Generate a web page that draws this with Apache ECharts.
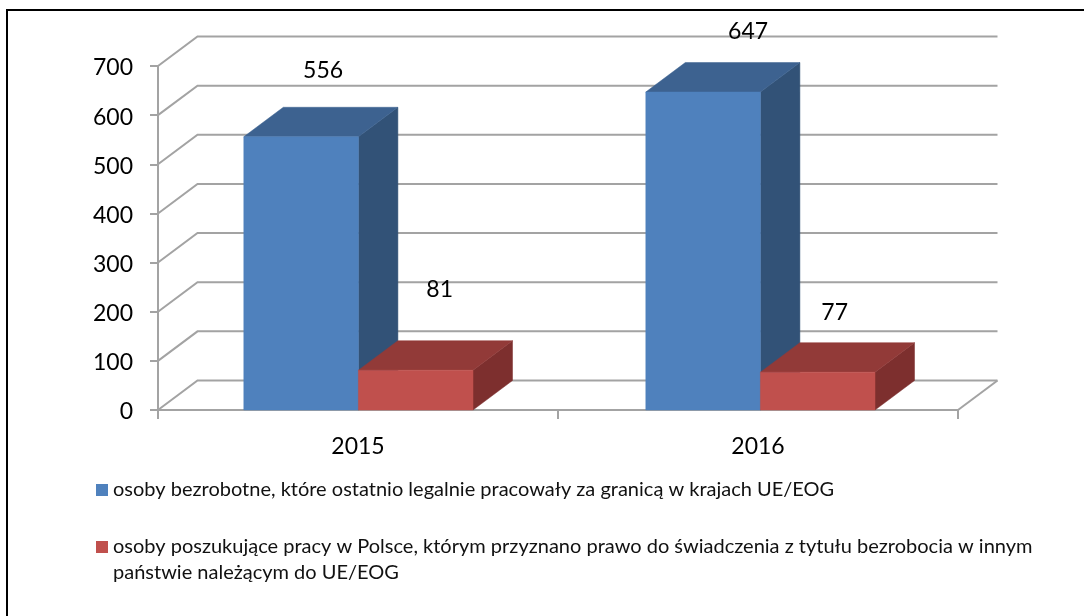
<!DOCTYPE html>
<html>
<head>
<meta charset="utf-8">
<style>html,body{margin:0;padding:0;background:#fff}#c{width:1084px;height:616px}</style>
<script src="https://cdn.jsdelivr.net/npm/echarts@6/dist/echarts.min.js"></script>
</head>
<body>
<div id="c"></div>
<script>
const categories = ['2015', '2016'];
const seriesNames = [
  'osoby bezrobotne, które ostatnio legalnie pracowały za granicą w krajach UE/EOG',
  'osoby poszukujące pracy w Polsce, którym przyznano prawo do świadczenia z tytułu bezrobocia w innym państwie należącym do UE/EOG'
];
const unemployed = [556, 647];
const jobSeekers = [81, 77];
const yTicks = [0, 100, 200, 300, 400, 500, 600, 700];

const FONT = 'Lato, "Open Sans", sans-serif';
const DX = 39.5, DY = -29.5;
const GRID = '#a3a3a3';
const palettes = [
  {front: '#4f81bd', top: '#3d6290', side: '#325277'},
  {front: '#c0504d', top: '#923a38', side: '#7d2f2e'}
];
// hand-placed data label offsets from the top of each bar's front face
const labelOffsets = [
  [[22, -66], [45, -60]],
  [[24, -81], [17, -60]]
];
const categoryNudge = [0, 2];
const BAR_WIDTH_RATIO = 0.2865, BAR_START_RATIO = 0.2145;

const chart = echarts.init(document.getElementById('c'), null, {renderer: 'canvas'});

function barItem(sIdx) {
  return function (params, api) {
    const cat = api.value(0), val = api.value(1);
    const base = api.coord([cat, 0]), top = api.coord([cat, val]);
    const band = api.size([1, 0])[0];
    const bw = band * BAR_WIDTH_RATIO;
    const x0 = base[0] - band / 2 + band * BAR_START_RATIO + sIdx * bw + categoryNudge[params.dataIndex];
    const x1 = x0 + bw, yb = base[1], yt = top[1];
    const p = palettes[sIdx];
    const off = labelOffsets[sIdx][params.dataIndex];
    const poly = (pts, fill) => ({type: 'polygon', shape: {points: pts}, style: {fill: fill, stroke: fill, lineWidth: 0.5}});
    return {
      type: 'group',
      children: [
        poly([[x1, yb], [x1 + DX, yb + DY], [x1 + DX, yt + DY], [x1, yt]], p.side),
        poly([[x0, yt], [x0 + DX, yt + DY], [x1 + DX, yt + DY], [x1, yt]], p.top),
        poly([[x0, yb], [x0, yt], [x1, yt], [x1, yb]], p.front),
        {type: 'text', style: {
          x: (x0 + x1) / 2 + off[0], y: yt + off[1], text: String(val),
          font: '23px ' + FONT, fill: '#000', align: 'center', verticalAlign: 'middle'
        }, z2: 50}
      ]
    };
  };
}

function wallItem(params, api) {
  const v = api.value(0);
  const start = api.coord([0, v]);
  const cs = params.coordSys;
  const left = cs.x, right = cs.x + cs.width;
  const ls = {stroke: GRID, lineWidth: 2, fill: null};
  const children = [
    {type: 'polyline', shape: {points: [[left, start[1]], [left + DX, start[1] + DY], [right + DX, start[1] + DY]]}, style: ls}
  ];
  if (v === 0) {
    children.push({type: 'line', shape: {x1: right, y1: start[1], x2: right + DX, y2: start[1] + DY}, style: {stroke: GRID, lineWidth: 2}});
  }
  return {type: 'group', children: children};
}

chart.setOption({
  animation: false,
  backgroundColor: '#fff',
  textStyle: {fontFamily: FONT},
  grid: {left: 158, right: 126, top: 66, bottom: 206, containLabel: false},
  xAxis: {
    type: 'category', data: categories,
    axisLine: {lineStyle: {color: GRID, width: 2}},
    axisTick: {show: true, alignWithLabel: false, length: 9, lineStyle: {color: GRID, width: 2}},
    axisLabel: {fontSize: 23, color: '#000', margin: 25, fontFamily: FONT},
    splitLine: {show: false}, z: 3
  },
  yAxis: {
    type: 'value', min: 0, max: 700, interval: 100,
    axisLine: {show: true, lineStyle: {color: GRID, width: 2}},
    axisTick: {show: true, length: 8, lineStyle: {color: GRID, width: 2}},
    axisLabel: {
      color: '#000', margin: 25, formatter: '{v|{value}}',
      rich: {v: {fontSize: 23, color: '#000', fontFamily: FONT, padding: [4, 0, 0, 0]}}
    },
    splitLine: {show: false}, z: 3
  },
  legend: [
    {
      data: [seriesNames[0]], left: 96, top: 480, padding: 0,
      itemWidth: 12, itemHeight: 12, itemGap: 0, icon: 'rect', selectedMode: false,
      textStyle: {fontSize: 20, color: '#111', fontFamily: FONT, padding: [0, 0, 0, 0]}
    },
    {
      data: [seriesNames[1]], left: 96, top: 508, padding: 0,
      itemWidth: 12, itemHeight: 12, itemGap: 0, icon: 'rect', selectedMode: false,
      formatter: function () {
        return ' \nosoby poszukujące pracy w Polsce, którym przyznano prawo do świadczenia z tytułu bezrobocia w innym\npaństwie należącym do UE/EOG';
      },
      textStyle: {fontSize: 20, lineHeight: 26, color: '#111', fontFamily: FONT, padding: [0, 0, 0, 0]}
    }
  ],
  graphic: [{
    type: 'polyline', silent: true, z: 100,
    shape: {points: [[7, 616], [7, 10], [1084, 10]]},
    style: {stroke: '#000', lineWidth: 2, fill: null}
  }],
  series: [
    {
      type: 'custom', name: 'walls', coordinateSystem: 'cartesian2d',
      data: yTicks.map(v => [v]), encode: {y: 0}, renderItem: wallItem, z: 1, silent: true, clip: false
    },
    {
      type: 'custom', name: seriesNames[0], coordinateSystem: 'cartesian2d',
      itemStyle: {color: palettes[0].front},
      data: unemployed.map((v, i) => [i, v]), encode: {x: 0, y: 1},
      renderItem: barItem(0), z: 5, clip: false
    },
    {
      type: 'custom', name: seriesNames[1], coordinateSystem: 'cartesian2d',
      itemStyle: {color: palettes[1].front},
      data: jobSeekers.map((v, i) => [i, v]), encode: {x: 0, y: 1},
      renderItem: barItem(1), z: 6, clip: false
    }
  ]
});
</script>
</body>
</html>
